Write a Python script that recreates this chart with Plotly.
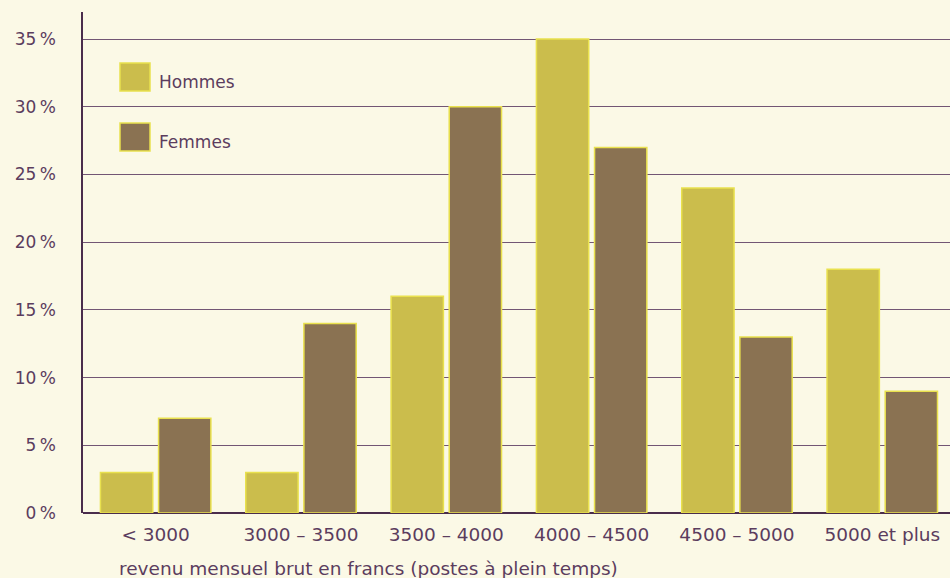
import plotly.graph_objects as go

categories = ["< 3000", "3000 – 3500", "3500 – 4000", "4000 – 4500", "4500 – 5000", "5000 et plus"]
hommes = [3, 3, 16, 35, 24, 18]
femmes = [7, 14, 30, 27, 13, 9]
y_ticks = [0, 5, 10, 15, 20, 25, 30, 35]

BG = "#FBF9E6"
TXT = "#5B3D5E"
C_H = "#CBBD4C"
C_F = "#8A7252"
EDGE = "#E9E14E"
FONT = "DejaVu Sans"

fig = go.Figure()
fig.add_trace(go.Bar(name="Hommes", x=categories, y=hommes, marker=dict(color=C_H, line=dict(color=EDGE, width=1.5)), showlegend=False))
fig.add_trace(go.Bar(name="Femmes", x=categories, y=femmes, marker=dict(color=C_F, line=dict(color=EDGE, width=1.5)), showlegend=False))

# legend drawn as swatches + labels
legend_items = [("Hommes", C_H), ("Femmes", C_F)]
for i, (lab, col) in enumerate(legend_items):
    y0 = 1 - (51 + i * 60) / 501
    y1 = 1 - (79 + i * 60) / 501
    fig.add_shape(type="rect", xref="paper", yref="paper",
                  x0=37 / 867, x1=67 / 867, y0=y1, y1=y0,
                  fillcolor=col, line=dict(color=EDGE, width=1.5))
    fig.add_annotation(text=lab, xref="paper", yref="paper", x=74 / 867, y=(y0 + y1) / 2 - 5 / 501,
                       xanchor="left", yanchor="middle", showarrow=False,
                       font=dict(family=FONT, size=17, color=TXT))

fig.add_annotation(text="revenu mensuel brut en francs (postes à plein temps)",
                   xref="paper", yref="paper", x=34 / 867, y=-55 / 501,
                   xanchor="left", yanchor="middle", showarrow=False,
                   font=dict(family=FONT, size=18.5, color=TXT))

fig.update_layout(
    width=950, height=578,
    margin=dict(l=83, r=0, t=12, b=65),
    paper_bgcolor=BG, plot_bgcolor=BG,
    barmode="group", bargap=0.2, bargroupgap=0.1,
    font=dict(family=FONT, color=TXT, size=16),
    xaxis=dict(range=[-0.5, 5.466], showgrid=False, showline=False, ticks="", ticklabelstandoff=8,
               tickfont=dict(size=18.5, color=TXT)),
    yaxis=dict(range=[0, 37], tickvals=y_ticks, ticktext=[f"{v}\u202f%" for v in y_ticks],
               showgrid=True, gridcolor="#725674", gridwidth=1,
               showline=True, linecolor="#4A2D4C", linewidth=1.5,
               zeroline=True, zerolinecolor="#4A2D4C", zerolinewidth=1.5,
               ticks="", ticklabelstandoff=22, tickfont=dict(size=17, color=TXT)),
)

fig.write_html("out.html", config={"displayModeBar": False})
with open("out.html", encoding="utf-8") as f:
    html = f.read()
html = html.replace("<body>", f'<body style="margin:0;padding:0;overflow:hidden;background:{BG}">', 1)
with open("out.html", "w", encoding="utf-8") as f:
    f.write(html)
